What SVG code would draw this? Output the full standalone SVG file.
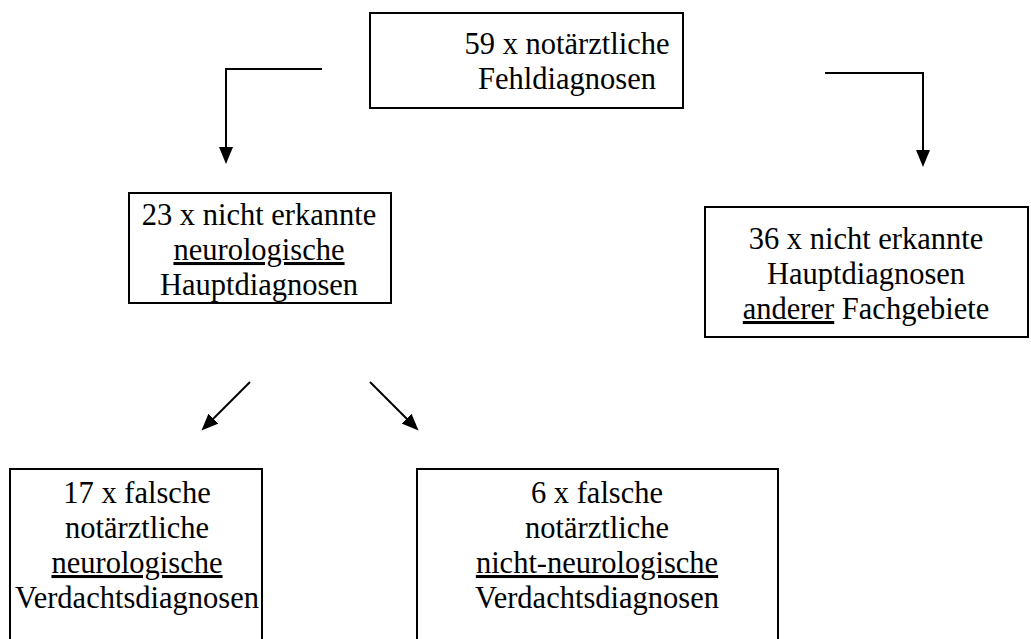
<svg xmlns="http://www.w3.org/2000/svg" width="1031" height="639" viewBox="0 0 1031 639">
<style>
.box{fill:#fff;stroke:#000;stroke-width:2}
.t{font-family:"Liberation Serif","Times New Roman",serif;font-size:30.5px;fill:#000;text-anchor:middle}
.u{text-decoration:underline}
.c{fill:none;stroke:#000;stroke-width:2}
</style>
<defs>
<marker id="ah" markerUnits="userSpaceOnUse" markerWidth="18" markerHeight="16" refX="12" refY="7" orient="auto">
<path d="M0,0 L17,7 L0,14 z" fill="#000"/>
</marker>
</defs>
<rect width="1031" height="639" fill="#fff"/>
<g id="connectors">
<polyline class="c" points="322,69 226,69 226,159" marker-end="url(#ah)"/>
<polyline class="c" points="825,73 923,73 923,162" marker-end="url(#ah)"/>
<line class="c" x1="250" y1="382" x2="205" y2="427" marker-end="url(#ah)"/>
<line class="c" x1="370" y1="382" x2="415" y2="427" marker-end="url(#ah)"/>
</g>
<g id="n59">
<rect class="box" x="370" y="13" width="313" height="95"/>
<text class="t" x="567" y="54">59 x notärztliche</text>
<text class="t" x="567" y="89">Fehldiagnosen</text>
</g>
<g id="n23">
<rect class="box" x="129" y="193" width="262" height="110"/>
<text class="t" x="259" y="225">23 x nicht erkannte</text>
<text class="t" x="259" y="260"><tspan class="u">neurologische</tspan></text>
<text class="t" x="259" y="295">Hauptdiagnosen</text>
</g>
<g id="n36">
<rect class="box" x="705" y="207" width="323" height="130"/>
<text class="t" x="866" y="249">36 x nicht erkannte</text>
<text class="t" x="866" y="284">Hauptdiagnosen</text>
<text class="t" x="866" y="319"><tspan class="u">anderer</tspan> Fachgebiete</text>
</g>
<g id="n17">
<rect class="box" x="10" y="469" width="252" height="180"/>
<text class="t" x="137" y="503">17 x falsche</text>
<text class="t" x="137" y="538">notärztliche</text>
<text class="t" x="137" y="573"><tspan class="u">neurologische</tspan></text>
<text class="t" x="137" y="608">Verdachtsdiagnosen</text>
</g>
<g id="n6">
<rect class="box" x="417" y="469" width="361" height="180"/>
<text class="t" x="597" y="503">6 x falsche</text>
<text class="t" x="597" y="538">notärztliche</text>
<text class="t" x="597" y="573"><tspan class="u">nicht-neurologische</tspan></text>
<text class="t" x="597" y="608">Verdachtsdiagnosen</text>
</g>
</svg>
